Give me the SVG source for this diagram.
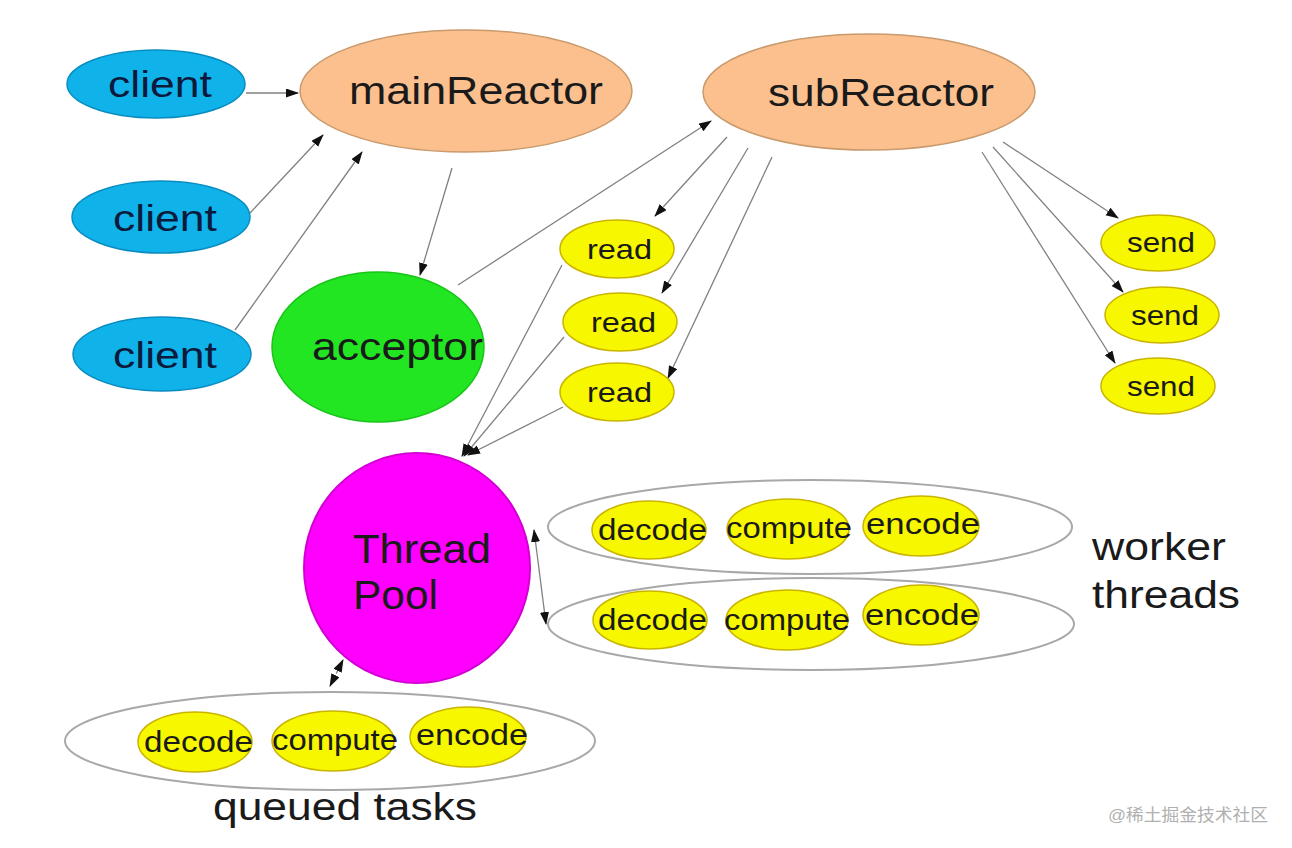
<svg xmlns="http://www.w3.org/2000/svg" width="1292" height="848" viewBox="0 0 1292 848">
<style>
text{font-family:"Liberation Sans","Noto Sans",Arial,sans-serif;fill:#1a1a1a}
.client ellipse{fill:#10b2ea;stroke:#0a8cc0;stroke-width:1.5}
.client text{fill:#0c1a3c;font-size:36px}
.reactor ellipse{fill:#fbc08e;stroke:#c99a6c;stroke-width:1.5}
.reactor text{font-size:38px}
.small ellipse{fill:#f7f700;stroke:#c9b400;stroke-width:1.5}
.small text{font-size:28px}
.task ellipse{fill:#f7f700;stroke:#c9b400;stroke-width:1.5}
.task text{font-size:30px}
.group{fill:none;stroke:#a8a8a8;stroke-width:2}
.label{font-size:38px}
#connectors line{stroke:#808080;stroke-width:1.3}
</style>
<defs>
<marker id="arr" markerUnits="userSpaceOnUse" markerWidth="14" markerHeight="10" refX="12" refY="4.5" orient="auto-start-reverse" viewBox="0 0 14 10">
<path d="M0,0 L13,4.5 L0,9 z" fill="#111"/>
</marker>
</defs>
<rect width="1292" height="848" fill="#ffffff"/>

<g id="connectors">
<line x1="246" y1="93" x2="298" y2="93" marker-end="url(#arr)"/>
<line x1="250" y1="213" x2="323" y2="135" marker-end="url(#arr)"/>
<line x1="235" y1="330" x2="362" y2="152" marker-end="url(#arr)"/>
<line x1="452" y1="168" x2="420" y2="275" marker-end="url(#arr)"/>
<line x1="458" y1="285" x2="711" y2="121" marker-end="url(#arr)"/>
<line x1="727" y1="137" x2="655" y2="216" marker-end="url(#arr)"/>
<line x1="748" y1="148" x2="662" y2="293" marker-end="url(#arr)"/>
<line x1="772" y1="157" x2="668" y2="378" marker-end="url(#arr)"/>
<line x1="1003" y1="142" x2="1118" y2="218" marker-end="url(#arr)"/>
<line x1="993" y1="147" x2="1123" y2="292" marker-end="url(#arr)"/>
<line x1="982" y1="152" x2="1115" y2="363" marker-end="url(#arr)"/>
<line x1="562" y1="265" x2="462" y2="456" marker-end="url(#arr)"/>
<line x1="564" y1="337" x2="464" y2="456" marker-end="url(#arr)"/>
<line x1="563" y1="407" x2="468" y2="455" marker-end="url(#arr)"/>
<line x1="534" y1="530" x2="546" y2="624" marker-start="url(#arr)" marker-end="url(#arr)"/>
<line x1="330" y1="686" x2="343" y2="660" marker-start="url(#arr)" marker-end="url(#arr)" stroke-dasharray="4 3"/>
</g>

<g id="client1" class="client"><ellipse cx="156" cy="84" rx="89" ry="34"/><text x="108" y="97" textLength="104" lengthAdjust="spacingAndGlyphs">client</text></g>
<g id="client2" class="client"><ellipse cx="161" cy="217" rx="89" ry="36"/><text x="113" y="231" textLength="104" lengthAdjust="spacingAndGlyphs">client</text></g>
<g id="client3" class="client"><ellipse cx="162" cy="354" rx="89" ry="37"/><text x="113" y="368" textLength="104" lengthAdjust="spacingAndGlyphs">client</text></g>

<g id="mainReactor" class="reactor"><ellipse cx="466" cy="91" rx="166" ry="61"/><text x="349" y="104" textLength="254" lengthAdjust="spacingAndGlyphs">mainReactor</text></g>
<g id="subReactor" class="reactor"><ellipse cx="869" cy="92" rx="166" ry="58"/><text x="768" y="106" textLength="226" lengthAdjust="spacingAndGlyphs">subReactor</text></g>

<g id="acceptor"><ellipse cx="378" cy="347" rx="106" ry="75" fill="#22e622" stroke="#19c419" stroke-width="1.5"/><text x="312" y="360" font-size="38" textLength="171" lengthAdjust="spacingAndGlyphs" fill="#102010">acceptor</text></g>

<g id="read1" class="small"><ellipse cx="617" cy="249" rx="57" ry="29"/><text x="587" y="259" textLength="65" lengthAdjust="spacingAndGlyphs">read</text></g>
<g id="read2" class="small"><ellipse cx="620" cy="322" rx="57" ry="29"/><text x="591" y="332" textLength="65" lengthAdjust="spacingAndGlyphs">read</text></g>
<g id="read3" class="small"><ellipse cx="617" cy="392" rx="57" ry="29"/><text x="587" y="402" textLength="65" lengthAdjust="spacingAndGlyphs">read</text></g>

<g id="send1" class="small"><ellipse cx="1158" cy="243" rx="57" ry="28"/><text x="1127" y="252" textLength="68" lengthAdjust="spacingAndGlyphs">send</text></g>
<g id="send2" class="small"><ellipse cx="1162" cy="315" rx="57" ry="28"/><text x="1131" y="325" textLength="68" lengthAdjust="spacingAndGlyphs">send</text></g>
<g id="send3" class="small"><ellipse cx="1158" cy="386" rx="57" ry="28"/><text x="1127" y="396" textLength="68" lengthAdjust="spacingAndGlyphs">send</text></g>

<g id="threadPool"><ellipse cx="417" cy="568" rx="113" ry="115" fill="#ff00ff" stroke="#d200d2" stroke-width="2"/>
<text x="353" y="563" font-size="40" textLength="138" lengthAdjust="spacingAndGlyphs" fill="#4a0c4a">Thread</text>
<text x="353" y="609" font-size="40" textLength="85" lengthAdjust="spacingAndGlyphs" fill="#4a0c4a">Pool</text></g>

<g id="workerThread1">
<ellipse class="group" cx="810" cy="527" rx="262" ry="47"/>
<g class="task"><ellipse cx="649" cy="530" rx="57" ry="29"/><text x="598" y="540" textLength="109" lengthAdjust="spacingAndGlyphs">decode</text></g>
<g class="task"><ellipse cx="788" cy="529" rx="61" ry="30"/><text x="726" y="538" textLength="126" lengthAdjust="spacingAndGlyphs">compute</text></g>
<g class="task"><ellipse cx="921" cy="526" rx="58" ry="30"/><text x="866" y="534" textLength="114" lengthAdjust="spacingAndGlyphs">encode</text></g>
</g>
<g id="workerThread2">
<ellipse class="group" cx="811" cy="624" rx="263" ry="46"/>
<g class="task"><ellipse cx="650" cy="620" rx="57" ry="29"/><text x="598" y="630" textLength="109" lengthAdjust="spacingAndGlyphs">decode</text></g>
<g class="task"><ellipse cx="787" cy="620" rx="61" ry="30"/><text x="724" y="630" textLength="126" lengthAdjust="spacingAndGlyphs">compute</text></g>
<g class="task"><ellipse cx="921" cy="615" rx="58" ry="30"/><text x="865" y="625" textLength="114" lengthAdjust="spacingAndGlyphs">encode</text></g>
</g>
<g id="queuedTasks">
<ellipse class="group" cx="330" cy="741" rx="265" ry="49"/>
<g class="task"><ellipse cx="195" cy="742" rx="57" ry="30"/><text x="144" y="752" textLength="109" lengthAdjust="spacingAndGlyphs">decode</text></g>
<g class="task"><ellipse cx="333" cy="741" rx="61" ry="30"/><text x="272" y="750" textLength="126" lengthAdjust="spacingAndGlyphs">compute</text></g>
<g class="task"><ellipse cx="468" cy="737" rx="58" ry="30"/><text x="416" y="745" textLength="112" lengthAdjust="spacingAndGlyphs">encode</text></g>
</g>

<g id="labels">
<text class="label" x="1092" y="560" textLength="134" lengthAdjust="spacingAndGlyphs">worker</text>
<text class="label" x="1092" y="608" textLength="148" lengthAdjust="spacingAndGlyphs">threads</text>
<text class="label" x="213" y="820" textLength="264" lengthAdjust="spacingAndGlyphs">queued tasks</text>
<text x="1108" y="821" font-size="17" textLength="160" lengthAdjust="spacingAndGlyphs" style="fill:#b0b0b0;font-family:'Liberation Sans','Noto Sans CJK SC',sans-serif">@稀土掘金技术社区</text>
</g>
</svg>
